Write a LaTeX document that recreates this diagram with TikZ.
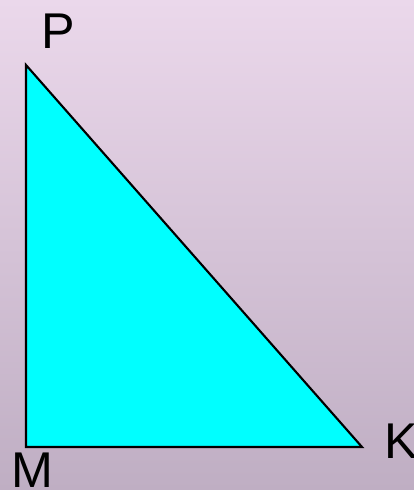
\documentclass[tikz,border=0pt]{standalone}
\usepackage{fontspec}
\setmainfont{Liberation Sans}
\usepackage{xcolor}
\usepackage{tikz}
\usetikzlibrary{positioning, calc}
\definecolor{bgtop}{HTML}{EBD8EB}
\definecolor{bgbot}{HTML}{BFAEC3}
\definecolor{tricyan}{HTML}{00FFFF}

\begin{document}
\begin{tikzpicture}[every node/.style={font=\fontsize{14.3}{16}\selectfont, inner sep=0pt}]
  % background
  \shade[top color=bgtop, bottom color=bgbot] (0,0) rectangle (4.14,4.90);
  \useasboundingbox (0,0) rectangle (4.14,4.90);
  % the vertices
  \coordinate (M) at (0.26,0.43);
  \coordinate (P) at (0.26,4.25);
  \coordinate (K) at (3.62,0.43);
  % the triangle
  \draw[fill=tricyan, line width=0.6pt, line join=miter] (M) -- (P) -- (K) -- cycle;
  % labels
  \node[anchor=base] (lP) at (0.58,4.42) {P};
  \node[anchor=base] (lM) at (0.325,0.02) {M};
  \node[anchor=base west] (lK) at (3.84,0.32) {K};
\end{tikzpicture}
\end{document}
